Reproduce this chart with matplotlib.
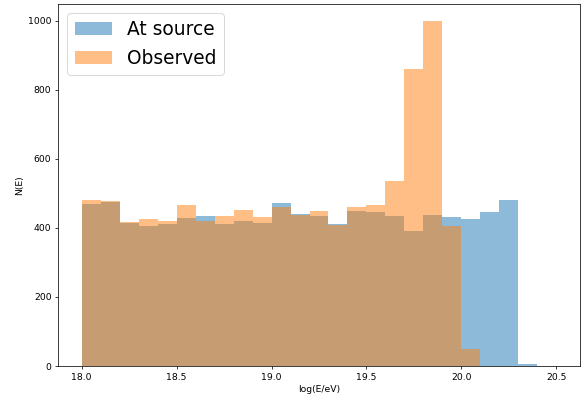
import numpy as np
import matplotlib
matplotlib.use("Agg")
import matplotlib.pyplot as plt

bin_edges = np.round(np.arange(18.0, 20.51, 0.1), 2)
at_source = [470, 475, 415, 405, 410, 430, 435, 410, 420, 413,
             473, 440, 435, 412, 448, 445, 435, 390, 437, 432,
             425, 445, 480, 7, 0]
observed = [480, 478, 418, 425, 420, 465, 420, 435, 452, 433,
            460, 438, 448, 408, 460, 467, 535, 860, 1000, 405,
            50, 0, 0, 0, 0]

DPI = 67
fig = plt.figure(figsize=(582 / DPI, 400 / DPI), dpi=DPI)
ax = fig.add_axes([58/582, 1 - 366/400, (580-58)/582, (366-3.5)/400])
ax.hist(bin_edges[:-1], bins=bin_edges, weights=at_source, alpha=0.5, label="At source")
ax.hist(bin_edges[:-1], bins=bin_edges, weights=observed, alpha=0.5, label="Observed")
ax.set_xlabel("log(E/eV)")
ax.set_ylabel("N(E)")
ax.legend(loc="upper left", fontsize=20)
fig.savefig("out.png", dpi=DPI)
